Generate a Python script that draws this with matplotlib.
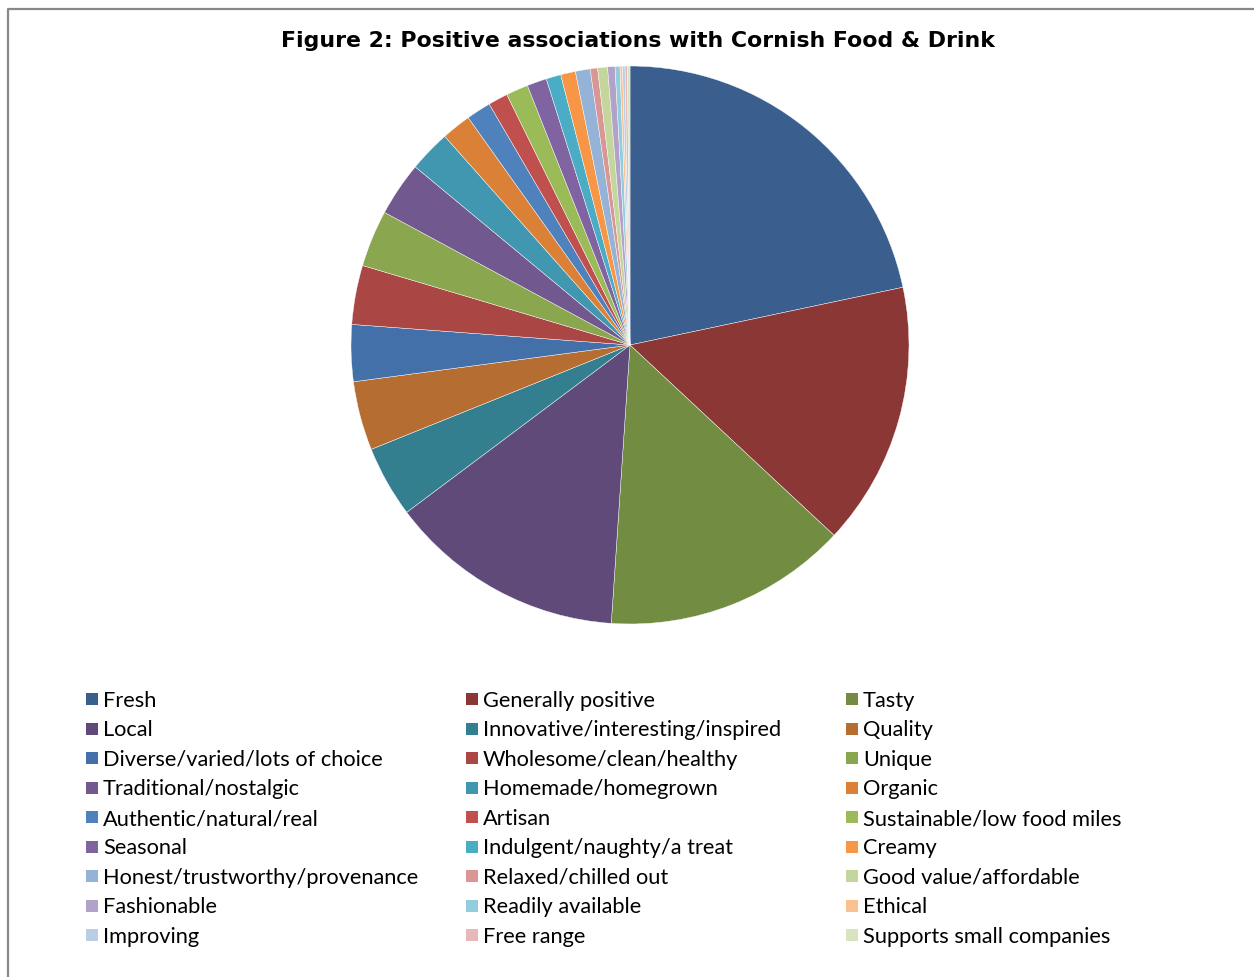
import matplotlib.pyplot as plt
from matplotlib.lines import Line2D
from matplotlib.patches import Rectangle

labels = [
    "Fresh", "Generally positive", "Tasty",
    "Local", "Innovative/interesting/inspired", "Quality",
    "Diverse/varied/lots of choice", "Wholesome/clean/healthy", "Unique",
    "Traditional/nostalgic", "Homemade/homegrown", "Organic",
    "Authentic/natural/real", "Artisan", "Sustainable/low food miles",
    "Seasonal", "Indulgent/naughty/a treat", "Creamy",
    "Honest/trustworthy/provenance", "Relaxed/chilled out", "Good value/affordable",
    "Fashionable", "Readily available", "Ethical",
    "Improving", "Free range", "Supports small companies",
]
counts = [152, 107, 99, 96, 29, 28, 23, 24, 23, 22, 17, 12, 10, 8, 9,
          8, 6, 6, 6, 3, 4, 3, 2, 1, 1, 1, 1]
colors = [
    "#3A5F8E", "#8B3735", "#728C42", "#5F4A7A", "#347F8F", "#B66D31",
    "#4470AA", "#AA4644", "#8AA64E", "#71588F", "#4197AF", "#DA8137",
    "#4F81BD", "#C0504D", "#9BBB59", "#8064A2", "#4BACC6", "#F79646",
    "#95B3D7", "#D99694", "#C3D69B", "#B3A2C7", "#93CDDD", "#FAC090",
    "#B9CDE5", "#E6B9B8", "#D7E4BD",
]

W, H = 1254, 978
fig = plt.figure(figsize=(W / 100, H / 100), dpi=100)

# frame: only the left and top edges fall inside the image
fig.lines.append(Line2D([8 / W, 8 / W, 1.0], [0.0, 1 - 10 / H, 1 - 10 / H],
                        transform=fig.transFigure, color="#888888",
                        linewidth=1.6))

fig.text(638 / W, 1 - 41 / H,
         "Figure 2: Positive associations with Cornish Food & Drink",
         ha="center", va="center", fontsize=15.8, fontweight="bold",
         family="DejaVu Sans")

# pie
cx, cy, r = 630, 346, 279
ax = fig.add_axes([(cx - r) / W, 1 - (cy + r) / H, 2 * r / W, 2 * r / H])
ax.pie(counts, colors=colors, startangle=90, counterclock=False,
       wedgeprops=dict(linewidth=0.3, edgecolor="white"))
ax.set_xlim(-1, 1)
ax.set_ylim(-1, 1)
ax.set_aspect("auto")
ax.axis("off")

# legend, three columns filled row by row
col_x = [86, 466, 846]
row_y0, row_dy = 700, 29.5
for i, (lab, c) in enumerate(zip(labels, colors)):
    row, col = divmod(i, 3)
    x = col_x[col]
    y = row_y0 + row * row_dy
    fig.patches.append(Rectangle((x / W, 1 - (y + 6) / H), 12 / W, 12 / H,
                                 transform=fig.transFigure,
                                 facecolor=c, edgecolor="none"))
    fig.text((x + 17) / W, 1 - (y + 1) / H, lab, ha="left", va="center",
             fontsize=15.7, family="Lato", color="black")

fig.savefig("out.png", dpi=100)
